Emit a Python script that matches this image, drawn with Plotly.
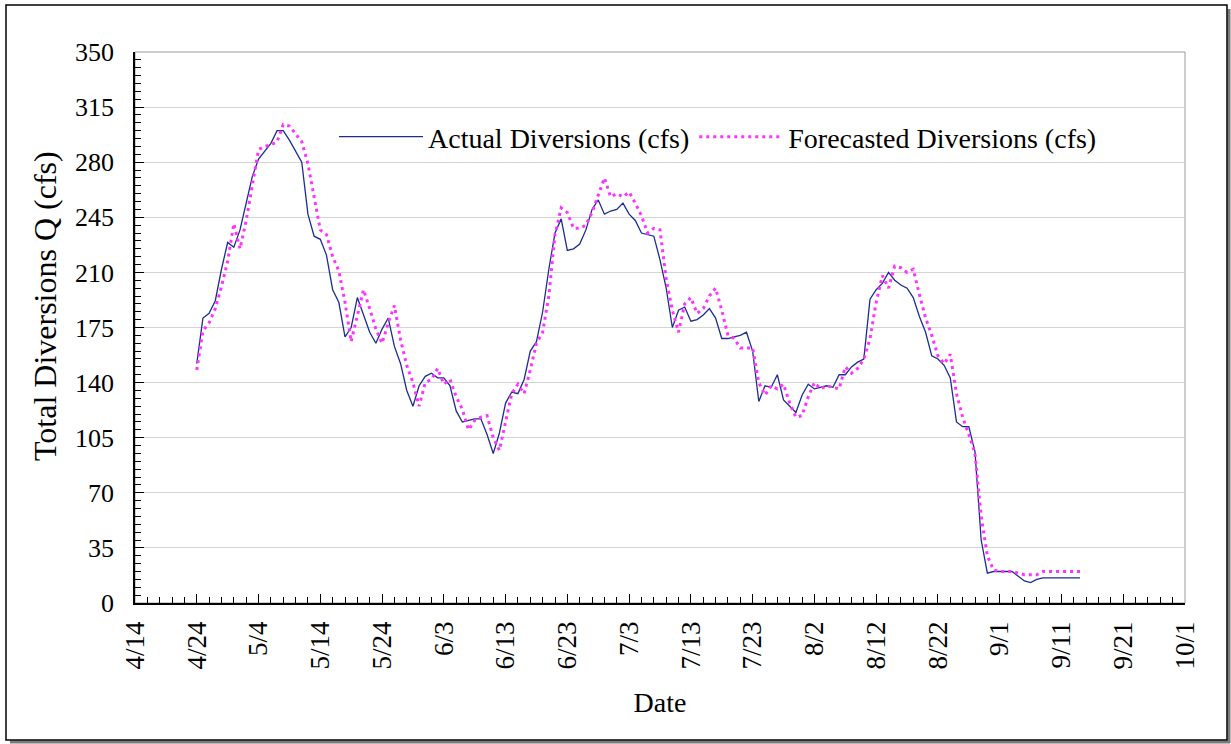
import pandas as pd
import plotly.graph_objects as go

start_date = "2007-04-24"

actual_cfs = [
    152, 181, 184, 192, 212, 229, 226, 237, 254, 271,
    282, 287, 292, 300, 300, 294, 287, 280, 247, 233,
    231, 221, 199, 191, 169, 175, 194, 183, 172, 165,
    174, 181, 163, 152, 135, 125, 138, 144, 146, 143,
    143, 138, 122, 115, 116, 117, 117, 107, 95, 108,
    127, 134, 133, 142, 160, 166, 185, 212, 235, 244,
    224, 225, 228, 237, 250, 256, 247, 249, 250, 254,
    247, 243, 235, 234, 233, 218, 200, 175, 186, 188,
    179, 180, 183, 187, 181, 168, 168, 169, 170, 172,
    160, 128, 138, 137, 145, 129, 125, 121, 132, 139,
    136, 137, 138, 137, 145, 145, 150, 153, 155, 193,
    199, 203, 210, 205, 202, 200, 194, 182, 172, 157,
    155, 151, 143, 115, 112, 112, 96, 40, 19, 20,
    20, 20, 20, 17, 14, 13, 15, 16, 16, 16,
    16, 16, 16, 16,
]

forecast_cfs = [
    148, 173, 178, 187, 201, 217, 241, 225, 243, 266,
    288, 290, 291, 293, 304, 303, 298, 293, 279, 259,
    237, 234, 220, 211, 191, 166, 182, 199, 187, 174,
    165, 178, 189, 167, 151, 140, 125, 140, 142, 149,
    139, 142, 131, 123, 110, 116, 118, 119, 105, 97,
    115, 133, 139, 133, 148, 165, 172, 195, 234, 251,
    248, 238, 238, 240, 248, 259, 270, 258, 260, 258,
    261, 254, 246, 235, 238, 237, 206, 186, 172, 190,
    194, 184, 187, 195, 200, 186, 170, 168, 162, 162,
    162, 140, 132, 138, 136, 139, 127, 118, 119, 131,
    140, 136, 138, 137, 136, 150, 146, 149, 155, 168,
    191, 208, 200, 214, 213, 210, 212, 196, 181, 170,
    157, 152, 158, 133, 118, 107, 95, 55, 30, 21,
    20, 20, 20, 19, 18, 18, 18, 20, 20, 20,
    20, 20, 20, 20,
]

dates = pd.date_range(start_date, periods=len(actual_cfs), freq="D")

x_range = ["2007-04-14", "2007-10-01"]
y_ticks = [0, 35, 70, 105, 140, 175, 210, 245, 280, 315, 350]

FONT = "Times New Roman, Liberation Serif, serif"
DAY = 86400000

fig = go.Figure()
fig.add_trace(go.Scatter(
    x=dates, y=actual_cfs, mode="lines",
    name="Actual Diversions (cfs)",
    line=dict(color="#1c2d8f", width=1.3),
))
fig.add_trace(go.Scatter(
    x=dates, y=forecast_cfs, mode="lines",
    name="Forecasted Diversions (cfs)",
    line=dict(color="#ff33ff", width=3, dash="3px,4px"),
))

W, H = 1231, 744
L, R, T, B = 135, 46, 52, 141
pw, ph = W - L - R, H - T - B


def px(xp):
    return (xp - L) / pw


def py(yp):
    return (H - B - yp) / ph


shapes = [
    # plot-area border (gray)
    dict(type="rect", xref="paper", yref="paper", x0=0, y0=0, x1=1, y1=1,
         line=dict(color="#9a9a9a", width=1), layer="below"),
    # outer frame shadow
    dict(type="line", xref="paper", yref="paper", x0=px(1229), x1=px(1229),
         y0=py(9), y1=py(743), line=dict(color="#7a7a7a", width=3)),
    dict(type="line", xref="paper", yref="paper", x0=px(10), x1=px(1230),
         y0=py(742), y1=py(742), line=dict(color="#7a7a7a", width=3)),
    # outer frame
    dict(type="rect", xref="paper", yref="paper", x0=px(6), x1=px(1227),
         y0=py(740), y1=py(5), line=dict(color="black", width=1.5)),
]

annotations = [
    dict(text="Total Diversions Q (cfs)", xref="paper", yref="paper",
         x=px(45), y=py(306), xanchor="center", yanchor="middle",
         textangle=-90, showarrow=False,
         font=dict(family=FONT, size=32, color="black")),
]

fig.update_layout(
    width=W, height=H,
    margin=dict(l=L, r=R, t=T, b=B, pad=0),
    paper_bgcolor="white", plot_bgcolor="white",
    font=dict(family=FONT, size=26, color="black"),
    showlegend=True,
    legend=dict(
        orientation="h", x=px(334), y=py(112), xanchor="left", yanchor="top",
        bgcolor="white", borderwidth=0, font=dict(family=FONT, size=28),
        itemwidth=84, traceorder="normal",
    ),
    shapes=shapes,
    annotations=annotations,
)

fig.update_xaxes(
    type="date", range=x_range,
    tick0="2007-04-14", dtick=10 * DAY, tickformat="%-m/%-d",
    tickangle=-90, ticks="inside", ticklen=9, tickwidth=1.2, tickcolor="black",
    minor=dict(dtick=2 * DAY, tick0="2007-04-14", ticks="inside", ticklen=6,
               tickcolor="black", tickwidth=1, showgrid=False),
    showline=True, linecolor="black", linewidth=1.5,
    showgrid=False, zeroline=False,
    tickfont=dict(family=FONT, size=27),
    ticklabelstandoff=6,
    title=dict(text="Date", font=dict(family=FONT, size=28), standoff=24),
)

fig.update_yaxes(
    range=[0, 350], tickmode="array", tickvals=y_ticks,
    ticks="inside", ticklen=9, tickwidth=1.2, tickcolor="black",
    minor=dict(dtick=5, tick0=0, ticks="inside", ticklen=6,
               tickcolor="black", tickwidth=1, showgrid=False),
    showline=True, linecolor="black", linewidth=1.5,
    showgrid=True, gridcolor="#d4d4d4", gridwidth=1, zeroline=False,
    tickfont=dict(family=FONT, size=26),
    ticklabelstandoff=14,
)

fig.write_html(
    "out.html",
    config={"displayModeBar": False},
    post_script="document.body.style.margin='0';document.body.style.overflow='hidden';",
)
